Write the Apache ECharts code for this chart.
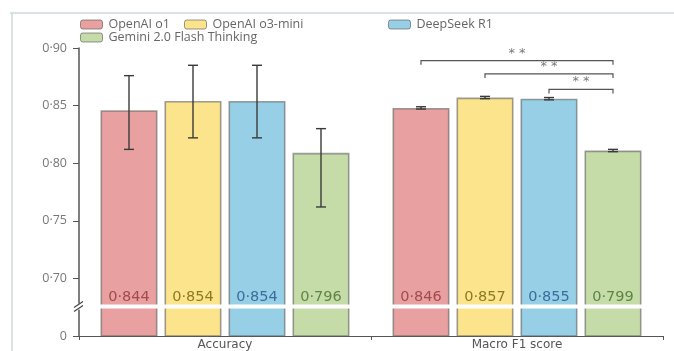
<!DOCTYPE html>
<html><head><meta charset="utf-8">
<script src="https://cdn.jsdelivr.net/npm/echarts@6/dist/echarts.min.js"></script>
<style>html,body{margin:0;padding:0;background:#fff}#c{width:674px;height:351px}</style>
</head><body><div id="c"></div>
<script>
// ---- data ----
const categories = ['Accuracy', 'Macro F1 score'];
const models = ['OpenAI o1', 'OpenAI o3-mini', 'DeepSeek R1', 'Gemini 2.0 Flash Thinking'];
const o1Values = [0.846, 0.848];
const o3Values = [0.854, 0.857];
const r1Values = [0.854, 0.856];
const geminiValues = [0.809, 0.811];
const o1Err = [[0.812, 0.876], [0.847, 0.849]];
const o3Err = [[0.822, 0.885], [0.856, 0.858]];
const r1Err = [[0.822, 0.885], [0.855, 0.857]];
const geminiErr = [[0.762, 0.830], [0.810, 0.812]];
const o1Labels = ['0·844', '0·846'];
const o3Labels = ['0·854', '0·857'];
const r1Labels = ['0·854', '0·855'];
const geminiLabels = ['0·796', '0·799'];
// significance brackets: [category, from model, to model, bracket level]
const sigBrackets = [[1, 0, 3, 0.889], [1, 1, 3, 0.8775], [1, 2, 3, 0.864]];
const sigText = ['* *', '* *', '* *'];
const yTicks = [0.65, 0.70, 0.75, 0.80, 0.85, 0.90];
const yTickLabels = ['0', '0·70', '0·75', '0·80', '0·85', '0·90'];
const breakValue = 0.6755;

// ---- style ----
const colors = ['#e8a1a0', '#fbe48c', '#97d0e6', '#c6dca8'];
const labelColors = ['#a24a4c', '#8c7a22', '#3b6d9c', '#5e8444'];
const values = [o1Values, o3Values, r1Values, geminiValues];
const errs = [o1Err, o3Err, r1Err, geminiErr];
const labels = [o1Labels, o3Labels, r1Labels, geminiLabels];
const BW = 57, GAP = 7;
const offsetOf = i => (i - 1.5) * (BW + GAP);
const FONT = 'Open Sans';
const WIDE = 'DejaVu Sans';

const series = [];
models.forEach((m, i) => {
  series.push({
    name: m, type: 'bar', barWidth: BW, barGap: (GAP / BW * 100) + '%',
    data: values[i],
    itemStyle: { color: colors[i], borderColor: 'rgba(95,95,95,0.6)', borderWidth: 1.6 },
    label: {
      show: true, position: 'insideBottom', distance: 32,
      formatter: p => labels[i][p.dataIndex],
      color: labelColors[i], fontSize: 14.5, fontFamily: WIDE
    },
    z: 2
  });
});
models.forEach((m, i) => {
  series.push({
    type: 'custom', name: m + ' err', z: 4, silent: true,
    data: errs[i].map((e, k) => [k, e[0], e[1]]),
    renderItem: (params, api) => {
      const x = api.coord([api.value(0), 0])[0] + offsetOf(i);
      const lo = api.coord([api.value(0), api.value(1)])[1];
      const hi = api.coord([api.value(0), api.value(2)])[1];
      const c = 5;
      const st = { stroke: '#3a3a3a', lineWidth: 1.4 };
      return { type: 'group', children: [
        { type: 'line', shape: { x1: x, y1: lo, x2: x, y2: hi }, style: st },
        { type: 'line', shape: { x1: x - c, y1: lo, x2: x + c, y2: lo }, style: st },
        { type: 'line', shape: { x1: x - c, y1: hi, x2: x + c, y2: hi }, style: st }
      ]};
    }
  });
});
series.push({
  type: 'custom', name: 'sig', z: 5, silent: true,
  data: sigBrackets,
  renderItem: (params, api) => {
    const cat = api.value(0);
    const cx = api.coord([cat, 0])[0];
    const x1 = cx + offsetOf(api.value(1));
    const x2 = cx + offsetOf(api.value(2));
    const y = api.coord([cat, api.value(3)])[1];
    const st = { stroke: '#555', lineWidth: 1.2, fill: null };
    return { type: 'group', children: [
      { type: 'polyline', shape: { points: [[x1, y + 4], [x1, y], [x2, y], [x2, y + 4]] }, style: st },
      { type: 'text', style: { text: sigText[params.dataIndex], x: (x1 + x2) / 2, y: y - 1,
        align: 'center', verticalAlign: 'bottom', fill: '#777', fontSize: 13, fontFamily: WIDE } }
    ]};
  }
});
// axis break band
series.push({
  type: 'custom', name: 'break', z: 6, silent: true,
  data: [[0, breakValue]],
  renderItem: (params, api) => {
    const y = api.coord([0, api.value(1)])[1];
    const cs = params.coordSys;
    const ax = cs.x;
    return { type: 'group', children: [
      { type: 'rect', shape: { x: ax + 2, y: y - 2, width: cs.width, height: 4 }, style: { fill: '#fff' } },
      { type: 'rect', shape: { x: ax - 3, y: y - 3, width: 6, height: 6 }, style: { fill: '#fff' } },
      { type: 'line', shape: { x1: ax - 5, y1: y + 1, x2: ax + 4, y2: y - 5 }, style: { stroke: '#444', lineWidth: 1.2 } },
      { type: 'line', shape: { x1: ax - 5, y1: y + 5, x2: ax + 4, y2: y - 1 }, style: { stroke: '#444', lineWidth: 1.2 } }
    ]};
  }
});

const legendPos = [[80, 18], [184, 18], [388, 18], [80, 31]];
const legends = models.map((m, i) => ({
  data: [m], left: legendPos[i][0], top: legendPos[i][1], padding: 0,
  itemWidth: 22, itemHeight: 9, itemGap: 0, selectedMode: false,
  itemStyle: { borderColor: 'rgba(80,80,80,0.6)', borderWidth: 1 },
  textStyle: { color: '#666', fontSize: 12.5, fontFamily: FONT, padding: [0, 0, 0, 1] }
}));

const chart = echarts.init(document.getElementById('c'), null, { renderer: 'canvas' });
chart.setOption({
  animation: false,
  backgroundColor: '#fff',
  legend: legends,
  grid: { left: 79, right: 11, top: 48, bottom: 15, containLabel: false },
  xAxis: {
    type: 'category', data: categories,
    axisLine: { lineStyle: { color: '#555', width: 1.2 } },
    axisTick: { show: true, length: 4, lineStyle: { color: '#555' } },
    axisLabel: { color: '#555', fontSize: 12, fontFamily: WIDE, margin: 3 }
  },
  yAxis: {
    type: 'value', min: 0.65, max: 0.90, interval: 0.05,
    axisLine: { show: true, lineStyle: { color: '#555', width: 1.5 } },
    axisTick: { show: true, length: 6, lineStyle: { color: '#555' } },
    splitLine: { show: false },
    axisLabel: {
      color: '#777', fontSize: 12.5, fontFamily: FONT, margin: 12,
      formatter: v => { const k = yTicks.findIndex(t => Math.abs(t - v) < 1e-6); return k >= 0 ? yTickLabels[k] : ''; }
    }
  },
  graphic: [
    { type: 'line', shape: { x1: 10, y1: 13, x2: 674, y2: 13 }, style: { stroke: '#cdd9dd', lineWidth: 1.5 } },
    { type: 'line', shape: { x1: 12, y1: 13, x2: 12, y2: 351 }, style: { stroke: '#cdd9dd', lineWidth: 1.5 } }
  ],
  series
});
</script></body></html>
